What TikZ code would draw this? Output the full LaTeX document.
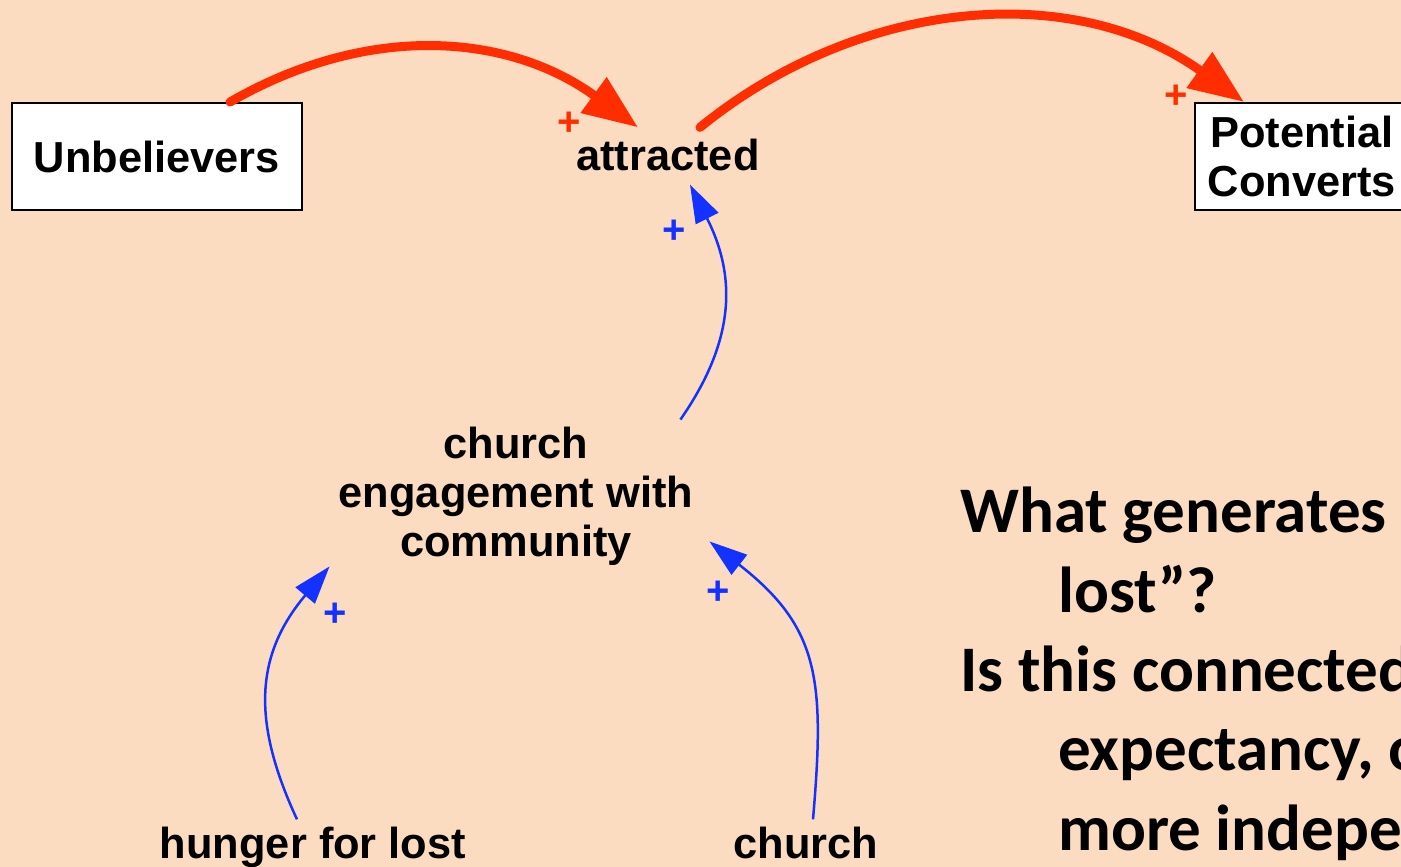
\documentclass[tikz,border=0pt]{standalone}
\usepackage{fontspec}
\setmainfont{Liberation Sans}
\newfontfamily\calfont{Carlito}
\usetikzlibrary{arrows.meta}
\definecolor{bgpeach}{RGB}{252,220,192}
\definecolor{cldred}{RGB}{255,45,0}
\definecolor{cldblue}{RGB}{20,50,255}
\begin{document}
\begin{tikzpicture}[x=1pt,y=1pt,
  lbl/.style={font=\bfseries\fontsize{43.4}{49}\selectfont, inner sep=0pt, align=center},
  stock/.style={lbl, draw=black, line width=2pt, fill=white, minimum width=290pt, minimum height=107pt},
  redlink/.style={draw=cldred, line width=9pt, line cap=round, -{Triangle[length=55pt,width=42pt]}},
  bluelink/.style={draw=cldblue, line width=2.5pt, -{Triangle[length=38pt,width=25pt]}},
  redpol/.style={text=cldred, font=\bfseries\fontsize{40}{40}\selectfont, inner sep=0pt},
  bluepol/.style={text=cldblue, font=\bfseries\fontsize{40}{40}\selectfont, inner sep=0pt},
  question/.style={font=\calfont\bfseries\fontsize{65}{79.3}\selectfont, inner sep=0pt, align=left, anchor=north west}
]
\fill[bgpeach] (0,0) rectangle (1401,-867);
\useasboundingbox (0,0) rectangle (1401,-867);
\clip (0,0) rectangle (1401,-867);

% nodes
\node[stock] (unb) at (157,-156.5) {Unbelievers};
\node[lbl] (att) at (668,-154.5) {attracted};
\node[stock, minimum width=214pt] (pc) at (1302,-156.5) {Potential\\Converts};
\node[lbl] (ce) at (516,-496) {church\\engagement with\\community};
\node[lbl, anchor=base] (hun) at (313,-858) {hunger for lost};
\node[lbl, anchor=base] (ch) at (806,-858) {church};

\node[question] (q) at (960,-487) {What generates\\
\hspace*{98pt}lost”?\\
Is this connected\\
\hspace*{98pt}expectancy, or\\
\hspace*{98pt}more independent};

% red links
\draw[redlink] ([xshift=73pt]unb.north) .. controls +(139,80) and +(-129,94) .. ([xshift=-30pt,yshift=11pt]att.north);
\draw[redlink] ([xshift=32pt,yshift=11pt]att.north) .. controls +(160,130) and +(-170,122) .. ([xshift=50pt]pc.north west);

% blue links
\draw[bluelink] ([xshift=-13pt,yshift=7pt]ce.north east) .. controls +(57,82) and +(45,-89) .. ([xshift=22pt,yshift=-14pt]att.south);
\draw[bluelink] ([xshift=-16pt,yshift=7pt]hun.north) .. controls +(-46,99) and +(-74,-88) .. ([xshift=-9pt,yshift=-1pt]ce.south west);
\draw[bluelink] ([xshift=7pt,yshift=7pt]ch.north) .. controls +(12,140) and +(110,-86) .. ([xshift=16pt,yshift=24pt]ce.south east);

% polarity signs
\node[redpol] (p1) at (569,-124) {+};
\node[redpol] (p2) at (1176,-97) {+};
\node[bluepol] (p3) at (674,-232) {+};
\node[bluepol] (p4) at (335,-615) {+};
\node[bluepol] (p5) at (718,-593) {+};
\end{tikzpicture}
\end{document}
